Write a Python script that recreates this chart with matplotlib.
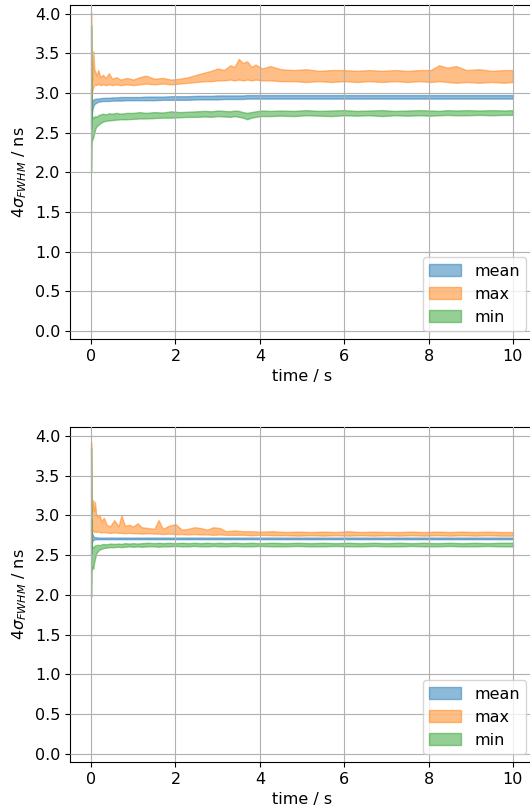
import matplotlib
matplotlib.use("Agg")
import matplotlib.pyplot as plt
import numpy as np

# ---------------- data: top panel ----------------
t_top = [0.0, 0.01, 0.02, 0.035, 0.055, 0.075, 0.1, 0.13, 0.17, 0.22,
         0.28, 0.35, 0.42, 0.5, 0.6, 0.7, 0.85, 1.0, 1.15, 1.3,
         1.5, 1.7, 1.9, 2.1, 2.3, 2.5, 2.7, 2.85, 3.0, 3.15,
         3.3, 3.4, 3.5, 3.6, 3.7, 3.8, 3.9, 4.05, 4.25, 4.5,
         4.8, 5.1, 5.4, 5.7, 6.0, 6.3, 6.6, 6.9, 7.2, 7.5,
         7.8, 8.05, 8.25, 8.45, 8.65, 8.9, 9.2, 9.5, 9.8, 10.0]

top_max_hi = [4.02, 3.30, 3.15, 3.25, 3.53, 3.30, 3.27, 3.22, 3.29, 3.20,
              3.23, 3.19, 3.25, 3.18, 3.20, 3.17, 3.19, 3.17, 3.20, 3.22,
              3.18, 3.19, 3.17, 3.18, 3.20, 3.23, 3.26, 3.28, 3.31, 3.29,
              3.35, 3.33, 3.43, 3.38, 3.40, 3.33, 3.36, 3.31, 3.34, 3.30,
              3.29, 3.30, 3.28, 3.29, 3.29, 3.28, 3.29, 3.28, 3.29, 3.28,
              3.29, 3.29, 3.35, 3.32, 3.34, 3.29, 3.30, 3.28, 3.29, 3.29]
top_max_lo = [2.80, 2.95, 3.00, 3.05, 3.08, 3.10, 3.11, 3.10, 3.12, 3.10,
              3.11, 3.10, 3.11, 3.10, 3.11, 3.10, 3.11, 3.10, 3.11, 3.12,
              3.11, 3.12, 3.11, 3.12, 3.13, 3.14, 3.15, 3.15, 3.16, 3.16,
              3.17, 3.16, 3.17, 3.16, 3.17, 3.16, 3.17, 3.16, 3.16, 3.15,
              3.15, 3.14, 3.15, 3.14, 3.15, 3.14, 3.15, 3.14, 3.15, 3.14,
              3.15, 3.14, 3.15, 3.14, 3.13, 3.14, 3.13, 3.14, 3.13, 3.14]
top_mean_hi = [3.05, 2.90, 2.88, 2.90, 2.92, 2.92, 2.93, 2.93, 2.93, 2.935,
               2.94, 2.94, 2.94, 2.945, 2.945, 2.95, 2.95, 2.95, 2.95, 2.955,
               2.955, 2.955, 2.96, 2.96, 2.96, 2.965, 2.965, 2.965, 2.97, 2.97,
               2.97, 2.97, 2.97, 2.97, 2.975, 2.975, 2.975, 2.975, 2.975, 2.975,
               2.975, 2.975, 2.975, 2.975, 2.975, 2.975, 2.975, 2.975, 2.975, 2.975,
               2.975, 2.975, 2.975, 2.975, 2.975, 2.975, 2.975, 2.975, 2.975, 2.975]
top_mean_lo = [2.55, 2.70, 2.75, 2.80, 2.84, 2.86, 2.87, 2.88, 2.89, 2.895,
               2.90, 2.90, 2.90, 2.905, 2.905, 2.905, 2.91, 2.91, 2.91, 2.91,
               2.91, 2.915, 2.915, 2.915, 2.915, 2.92, 2.92, 2.92, 2.92, 2.925,
               2.925, 2.925, 2.925, 2.925, 2.93, 2.93, 2.93, 2.93, 2.93, 2.93,
               2.93, 2.93, 2.93, 2.93, 2.93, 2.93, 2.93, 2.93, 2.93, 2.93,
               2.93, 2.93, 2.93, 2.93, 2.93, 2.93, 2.93, 2.93, 2.93, 2.93]
top_min_hi = [3.85, 2.85, 2.72, 2.70, 2.68, 2.70, 2.71, 2.70, 2.72, 2.73,
              2.74, 2.73, 2.745, 2.74, 2.75, 2.74, 2.75, 2.75, 2.76, 2.75,
              2.76, 2.755, 2.77, 2.76, 2.765, 2.77, 2.775, 2.77, 2.78, 2.775,
              2.77, 2.78, 2.775, 2.76, 2.75, 2.76, 2.77, 2.78, 2.775, 2.78,
              2.775, 2.785, 2.775, 2.78, 2.785, 2.775, 2.78, 2.785, 2.775, 2.78,
              2.785, 2.78, 2.775, 2.785, 2.78, 2.785, 2.78, 2.785, 2.78, 2.785]
top_min_lo = [2.00, 2.35, 2.40, 2.42, 2.45, 2.50, 2.55, 2.58, 2.60, 2.62,
              2.64, 2.65, 2.655, 2.66, 2.665, 2.67, 2.67, 2.675, 2.68, 2.68,
              2.685, 2.69, 2.69, 2.695, 2.70, 2.70, 2.705, 2.70, 2.71, 2.705,
              2.70, 2.71, 2.70, 2.69, 2.67, 2.69, 2.70, 2.71, 2.71, 2.715,
              2.71, 2.72, 2.715, 2.71, 2.72, 2.715, 2.72, 2.71, 2.72, 2.715,
              2.72, 2.715, 2.72, 2.725, 2.72, 2.72, 2.725, 2.72, 2.725, 2.725]

# ---------------- data: bottom panel ----------------
t_bot = [0.0, 0.01, 0.02, 0.035, 0.05, 0.07, 0.09, 0.12, 0.16, 0.2,
         0.25, 0.3, 0.37, 0.45, 0.55, 0.65, 0.72, 0.8, 0.9, 1.0,
         1.1, 1.2, 1.35, 1.5, 1.6, 1.7, 1.85, 2.0, 2.15, 2.3,
         2.45, 2.6, 2.75, 2.9, 3.05, 3.2, 3.4, 3.6, 3.8, 4.0,
         4.3, 4.6, 4.9, 5.2, 5.5, 5.8, 6.1, 6.4, 6.7, 7.0,
         7.3, 7.6, 7.9, 8.2, 8.5, 8.8, 9.1, 9.4, 9.7, 10.0]

bot_max_hi = [3.92, 3.10, 3.05, 3.15, 3.19, 3.05, 3.17, 3.02, 2.98, 3.00,
              2.92, 2.97, 2.88, 2.86, 2.94, 2.86, 3.00, 2.87, 2.88, 2.86,
              2.90, 2.85, 2.84, 2.83, 2.94, 2.83, 2.87, 2.89, 2.82, 2.83,
              2.85, 2.84, 2.82, 2.85, 2.84, 2.80, 2.81, 2.80, 2.80, 2.795,
              2.80, 2.79, 2.795, 2.79, 2.795, 2.79, 2.80, 2.79, 2.795, 2.79,
              2.79, 2.795, 2.79, 2.795, 2.79, 2.795, 2.79, 2.795, 2.79, 2.79]
bot_max_lo = [2.60, 2.78, 2.80, 2.81, 2.80, 2.79, 2.80, 2.79, 2.80, 2.79,
              2.785, 2.79, 2.785, 2.78, 2.785, 2.78, 2.78, 2.775, 2.78, 2.775,
              2.775, 2.77, 2.775, 2.77, 2.77, 2.765, 2.77, 2.765, 2.765, 2.76,
              2.765, 2.76, 2.76, 2.755, 2.76, 2.755, 2.755, 2.755, 2.75, 2.755,
              2.75, 2.75, 2.745, 2.75, 2.745, 2.75, 2.745, 2.75, 2.745, 2.75,
              2.745, 2.75, 2.745, 2.75, 2.745, 2.75, 2.745, 2.75, 2.745, 2.745]
bot_mean_hi = [2.95, 2.80, 2.78, 2.76, 2.74, 2.73, 2.725, 2.725, 2.72, 2.72,
               2.72, 2.72, 2.72, 2.72, 2.72, 2.72, 2.72, 2.72, 2.72, 2.72,
               2.72, 2.72, 2.72, 2.72, 2.72, 2.72, 2.72, 2.72, 2.72, 2.72,
               2.72, 2.72, 2.72, 2.72, 2.72, 2.72, 2.72, 2.72, 2.72, 2.72,
               2.72, 2.72, 2.72, 2.72, 2.72, 2.72, 2.72, 2.72, 2.72, 2.72,
               2.72, 2.72, 2.72, 2.72, 2.72, 2.72, 2.72, 2.72, 2.72, 2.72]
bot_mean_lo = [2.50, 2.62, 2.66, 2.68, 2.69, 2.695, 2.70, 2.70, 2.70, 2.70,
               2.70, 2.70, 2.70, 2.70, 2.70, 2.70, 2.70, 2.70, 2.70, 2.70,
               2.70, 2.70, 2.70, 2.70, 2.70, 2.70, 2.70, 2.70, 2.70, 2.70,
               2.70, 2.70, 2.70, 2.70, 2.70, 2.70, 2.70, 2.70, 2.70, 2.70,
               2.70, 2.70, 2.70, 2.70, 2.70, 2.70, 2.70, 2.70, 2.70, 2.70,
               2.70, 2.70, 2.70, 2.70, 2.70, 2.70, 2.70, 2.70, 2.70, 2.70]
bot_min_hi = [3.85, 2.70, 2.62, 2.60, 2.59, 2.61, 2.62, 2.625, 2.63, 2.625,
              2.635, 2.64, 2.635, 2.645, 2.64, 2.645, 2.64, 2.65, 2.645, 2.65,
              2.645, 2.65, 2.655, 2.65, 2.655, 2.65, 2.655, 2.65, 2.655, 2.65,
              2.655, 2.65, 2.655, 2.65, 2.655, 2.65, 2.655, 2.65, 2.655, 2.65,
              2.655, 2.65, 2.655, 2.65, 2.655, 2.65, 2.655, 2.65, 2.655, 2.65,
              2.655, 2.65, 2.655, 2.65, 2.655, 2.65, 2.655, 2.65, 2.655, 2.655]
bot_min_lo = [1.97, 2.30, 2.32, 2.35, 2.33, 2.40, 2.45, 2.52, 2.55, 2.57,
              2.58, 2.59, 2.595, 2.60, 2.60, 2.605, 2.60, 2.605, 2.61, 2.605,
              2.61, 2.605, 2.61, 2.61, 2.605, 2.61, 2.61, 2.615, 2.61, 2.61,
              2.615, 2.61, 2.61, 2.615, 2.61, 2.61, 2.615, 2.61, 2.61, 2.615,
              2.61, 2.61, 2.615, 2.61, 2.61, 2.615, 2.61, 2.61, 2.615, 2.61,
              2.61, 2.615, 2.61, 2.61, 2.615, 2.61, 2.61, 2.615, 2.61, 2.61]

labels = ["mean", "max", "min"]
x_ticks = [0, 2, 4, 6, 8, 10]
y_ticks = [0.0, 0.5, 1.0, 1.5, 2.0, 2.5, 3.0, 3.5, 4.0]

panels = [
    (t_top, [(top_mean_lo, top_mean_hi), (top_max_lo, top_max_hi), (top_min_lo, top_min_hi)]),
    (t_bot, [(bot_mean_lo, bot_mean_hi), (bot_max_lo, bot_max_hi), (bot_min_lo, bot_min_hi)]),
]

plt.rcParams['font.size'] = 11.5
fig = plt.figure(figsize=(5.3, 8.09), dpi=100)
positions = [[70/530, 1 - 339/809, 464/530, 334/809],
             [70/530, 1 - 762/809, 464/530, 335/809]]
colors = ["tab:blue", "tab:orange", "tab:green"]

for pos, (t, bands) in zip(positions, panels):
    ax = fig.add_axes(pos)
    for (lo, hi), lab, c in zip(bands, labels, colors):
        ax.fill_between(t, lo, hi, color=c, alpha=0.5, label=lab)
    ax.set_xlim(-0.5, 10.5)
    ax.set_ylim(-0.10, 4.11)
    ax.set_xticks(x_ticks)
    ax.set_yticks(y_ticks)
    ax.grid(True)
    ax.set_axisbelow(False)
    ax.set_xlabel("time / s")
    ax.set_ylabel(r"$4\sigma_{FWHM}$ / ns")
    ax.legend(loc="lower right")

fig.savefig("out.png", dpi=100)
